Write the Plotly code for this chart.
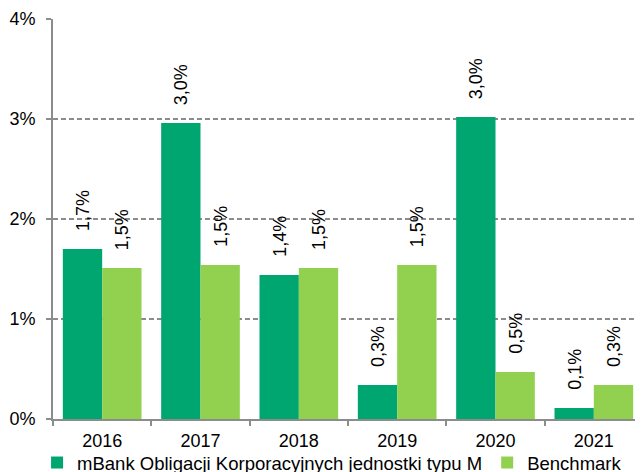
import plotly.graph_objects as go

years = ["2016", "2017", "2018", "2019", "2020", "2021"]
fund_name = "mBank Obligacji Korporacyjnych jednostki typu M"
bench_name = "Benchmark"
fund = [1.70, 2.96, 1.44, 0.34, 3.02, 0.11]
bench = [1.51, 1.54, 1.51, 1.54, 0.47, 0.34]
y_ticks = [0, 1, 2, 3, 4]
y_ticklabels = ["0%", "1%", "2%", "3%", "4%"]

DARK = "#00A66F"
LIGHT = "#92D050"
GRAY = "#8C8C8C"
FONT = "Liberation Sans, Arial, sans-serif"

def fmt(v):
    return f"{v:.1f}".replace(".", ",") + "%"

fig = go.Figure()
fig.add_trace(go.Bar(x=years, y=fund, name=fund_name, marker=dict(color=DARK, line=dict(width=0))))
fig.add_trace(go.Bar(x=years, y=bench, name=bench_name, marker=dict(color=LIGHT, line=dict(width=0))))

# page body has an 8px default margin; compensate so the chart lands where the reference has it
W, H = 635, 464
ml, mr, mt, mb = 45, 0, 11, 53
cat_px = (W - ml - mr) / len(years)
bar_px = cat_px * 0.8 / 2

anns = []
for vals, sign in ((fund, -1), (bench, 1)):
    for i, v in enumerate(vals):
        anns.append(dict(x=i, y=v, xref="x", yref="y", text=fmt(v), showarrow=False,
                         textangle=-90, xanchor="center", yanchor="bottom",
                         xshift=sign * bar_px / 2, yshift=16,
                         font=dict(family=FONT, size=18, color="#000000")))

fig.update_layout(
    width=W, height=H,
    margin=dict(l=ml, r=mr, t=mt, b=mb, autoexpand=False),
    paper_bgcolor="white", plot_bgcolor="white",
    barmode="group", bargap=0.2, bargroupgap=0,
    font=dict(family=FONT, size=18, color="#000000"),
    annotations=anns,
    showlegend=True,
    legend=dict(orientation="h", x=-0.027, xanchor="left", y=-0.11, yanchor="middle",
                font=dict(family=FONT, size=18.5, color="#000000"),
                itemwidth=30, tracegroupgap=0, bgcolor="rgba(0,0,0,0)"),
)
fig.update_xaxes(type="category", categoryorder="array", categoryarray=years,
                 range=[-0.5, len(years) - 0.5], automargin=False,
                 showline=True, linecolor=GRAY, linewidth=2,
                 ticks="outside", tickson="boundaries", ticklen=5, tickcolor=GRAY, tickwidth=2,
                 ticklabelstandoff=4,
                 showgrid=False, tickfont=dict(family=FONT, size=18, color="#000000"))
fig.update_yaxes(range=[0, 4], tickvals=y_ticks, ticktext=y_ticklabels, automargin=False,
                 showline=True, linecolor=GRAY, linewidth=2,
                 ticks="outside", ticklen=5, tickcolor=GRAY, tickwidth=2,
                 ticklabelstandoff=7,
                 showgrid=True, gridcolor=GRAY, griddash="5px,3px", gridwidth=2,
                 zeroline=False, tickfont=dict(family=FONT, size=18, color="#000000"))

fig.write_html("out.html")
